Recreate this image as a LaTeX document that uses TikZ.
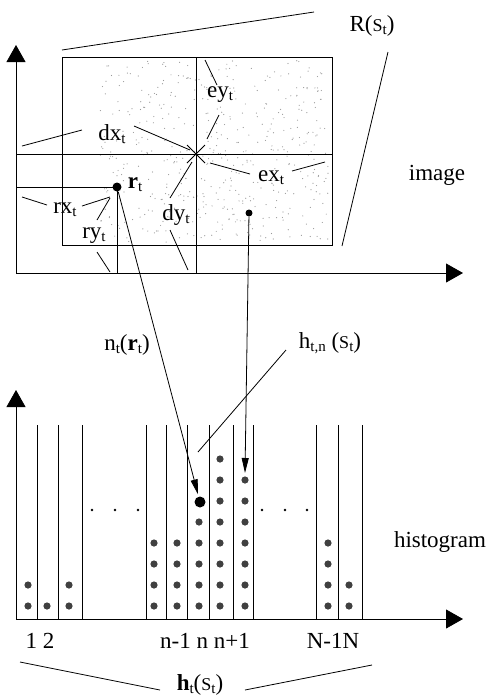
\documentclass[tikz,border=0pt]{standalone}
\usepackage{fontspec}
\setmainfont{Liberation Serif}
\usetikzlibrary{arrows.meta,positioning}
\newcommand{\lowidx}[1]{\raisebox{-0.3ex}{\fontsize{15}{15}\selectfont #1}}
\newcommand{\smallS}{{\fontsize{18}{18}\selectfont S}}

\begin{document}
\begin{tikzpicture}[x=1pt, y=-1pt, line width=0.8pt,
  axis/.style={-{Triangle[length=17pt,width=19pt]}},
  ptr/.style={-{Triangle[length=15pt,width=7pt]}},
  lbl/.style={anchor=base, inner sep=0pt, font=\fontsize{23}{25}\selectfont},
  dot/.style={circle, fill=black, inner sep=0pt, minimum size=#1},
  bead/.style={fill=black!75}]
\useasboundingbox (0,0) rectangle (492,697);
%
% Image axes
\coordinate (O1) at (16,273);
\draw[axis] (O1) -- (16,45);
\draw[axis] (O1) -- (463,273);
% speckle in the image
\pgfmathsetseed{3}
\foreach \i in {1,...,500}{
  \fill[gray!80] ({100+228*rnd},{60+183*rnd}) circle (0.6);
}
% Image frame
\draw (62,57) rectangle (332,245);
% centre lines
\coordinate (c) at (196,154);
\draw (196,57) -- (196,273);
\draw (16,154) -- (332,154);
\draw ([shift={(-9,-9)}]c) -- ([shift={(9,9)}]c);
\draw ([shift={(-9,9)}]c) -- ([shift={(9,-9)}]c);
% Point r
\node[dot=9pt] (r) at (117,187) {};
\draw (16,187) -- (r.center) -- (117,273);
% Second point
\node[dot=7pt] (p2) at (249,213) {};
%
% Labels
\node[lbl] (R) at (372,31) {R(\smallS\lowidx{t})};
\node[lbl] (dx) at (112,140) {dx\lowidx{t}};
\node[lbl] (ey) at (220,97) {ey\lowidx{t}};
\node[lbl] (ex) at (271,181) {ex\lowidx{t}};
\node[lbl] (rt) at (135,188) {\textbf{r}\lowidx{t}};
\node[lbl] (dy) at (176,220) {dy\lowidx{t}};
\node[lbl] (rx) at (65,213) {rx\lowidx{t}};
\node[lbl] (ry) at (94,238) {ry\lowidx{t}};
\node[lbl] (image) at (437,180) {image};
\node[lbl] (nt) at (127,350) {n\lowidx{t}(\textbf{r}\lowidx{t})};
\node[lbl] (htn) at (330,348) {h\lowidx{t,n} (\smallS\lowidx{t})};
\node[lbl] (histo) at (440,547) {histogram};
\node[lbl] (ht) at (200,690) {\textbf{h}\lowidx{t}(\smallS\lowidx{t})};
%
% Leader lines
\draw (62,50) -- (314,12);
\draw (388,52) -- (342,246);
\draw (22,146) -- (82,130);
\draw (134,126) -- (190,150);
\draw (205,60) -- (217,85);
\draw (219,115) -- (207,139);
\draw (210,163) -- (250,174);
\draw (292,171) -- (325,162);
\draw (192,162) -- (170,198);
\draw (170,230) -- (188,270);
\draw (22,197) -- (47,205);
\draw (82,206) -- (110,197);
\draw (97,220) -- (110,198);
\draw (97,252) -- (110,272);
\draw (286,350) -- (198,452);
\draw (20,662) -- (160,690);
\draw (245,690) -- (372,665);
%
% Histogram axes
\coordinate (O2) at (16,619);
\draw[axis] (O2) -- (16,390);
\draw[axis] (O2) -- (463,619);
% bins
\foreach \x in {37,58,82,146,166,187,209,233,253,316,338,362}{
  \draw (\x,425) -- (\x,619);
}
% counts
\foreach \x/\n in {28/2,47/1,69/2,154/4,177/4,199/5,220/8,245/7,328/4,349/2}{
  \foreach \k in {1,...,\n}{
    \fill[bead] (\x,{627-21*\k}) circle (3.6);
  }
}
% dots
\foreach \x in {92,115,138,262,285,307}{
  \fill (\x,510) circle (1.4);
}
\node[dot=11pt] (hn) at (200,502) {};
\coordinate (tipB) at (245,473);
% Mapping arrows
\draw[ptr, shorten >=2pt] (r) -- (hn);
\draw[ptr] (p2) -- (tipB);
% bin numbers
\node[lbl] (b12) at (40,648) {1 2};
\node[lbl] (bn) at (205,648) {n-1 n n+1};
\node[lbl] (bN) at (333,648) {N-1N};
\end{tikzpicture}
\end{document}
